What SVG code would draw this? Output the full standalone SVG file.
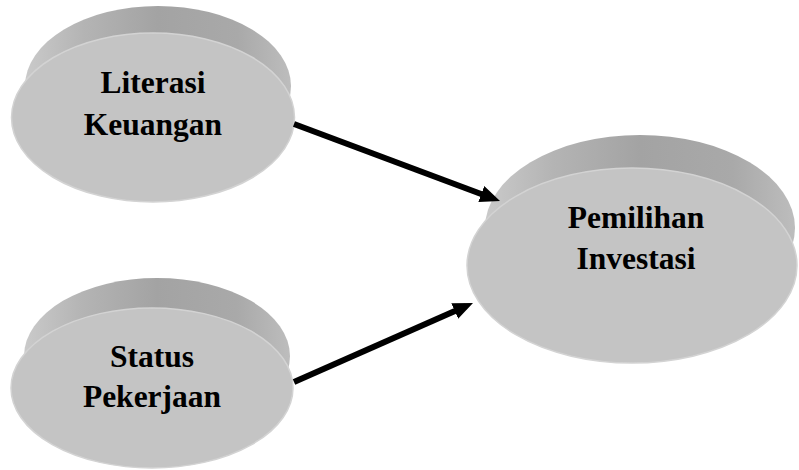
<svg xmlns="http://www.w3.org/2000/svg" width="799" height="470" viewBox="0 0 799 470">
  <defs>
    <linearGradient id="rimH" x1="0" y1="0" x2="1" y2="0">
      <stop offset="0" stop-color="#cacaca"/>
      <stop offset="0.22" stop-color="#b4b4b4"/>
      <stop offset="0.5" stop-color="#a3a3a3"/>
      <stop offset="0.8" stop-color="#a9a9a9"/>
      <stop offset="1" stop-color="#bdbdbd"/>
    </linearGradient>
    <marker id="arrow" viewBox="0 0 20 17" markerUnits="userSpaceOnUse" markerWidth="20" markerHeight="17" refX="12" refY="8.5" orient="auto">
      <path d="M0,0 L20,8.5 L0,17 z" fill="#000"/>
    </marker>
  </defs>
  <style>
    .rim { fill: url(#rimH); }
    .face { fill: #c4c4c4; stroke: #d3d3d3; stroke-width: 1.5; }
    .label { font-family: "Liberation Serif", "Times New Roman", serif; font-weight: 700; font-size: 31.5px; fill: #000; text-anchor: middle; }
    .conn { stroke: #000; stroke-width: 6; fill: none; marker-end: url(#arrow); }
  </style>
  <rect width="799" height="470" fill="#fff"/>

  <g id="node-literasi">
    <ellipse class="rim" cx="158" cy="86" rx="133" ry="80"/>
    <ellipse class="face" cx="153" cy="117.5" rx="141.5" ry="84.5"/>
    <text class="label" x="153" y="93" font-family="Liberation Serif, serif">Literasi</text>
    <text class="label" x="153" y="135" font-family="Liberation Serif, serif">Keuangan</text>
  </g>

  <g id="node-status">
    <ellipse class="rim" cx="157" cy="356" rx="133" ry="78"/>
    <ellipse class="face" cx="152" cy="388" rx="141" ry="80"/>
    <text class="label" x="152" y="367" font-family="Liberation Serif, serif">Status</text>
    <text class="label" x="152" y="407" font-family="Liberation Serif, serif">Pekerjaan</text>
  </g>

  <g id="node-pemilihan">
    <ellipse class="rim" cx="640" cy="228" rx="155" ry="93"/>
    <ellipse class="face" cx="632" cy="265.5" rx="165" ry="97.5"/>
    <text class="label" x="636" y="228" font-family="Liberation Serif, serif">Pemilihan</text>
    <text class="label" x="636" y="269" font-family="Liberation Serif, serif">Investasi</text>
  </g>

  <g id="connectors">
    <line class="conn" x1="294" y1="124" x2="492.5" y2="198.2"/>
    <line class="conn" x1="294" y1="382" x2="465.7" y2="306.2"/>
  </g>
</svg>
